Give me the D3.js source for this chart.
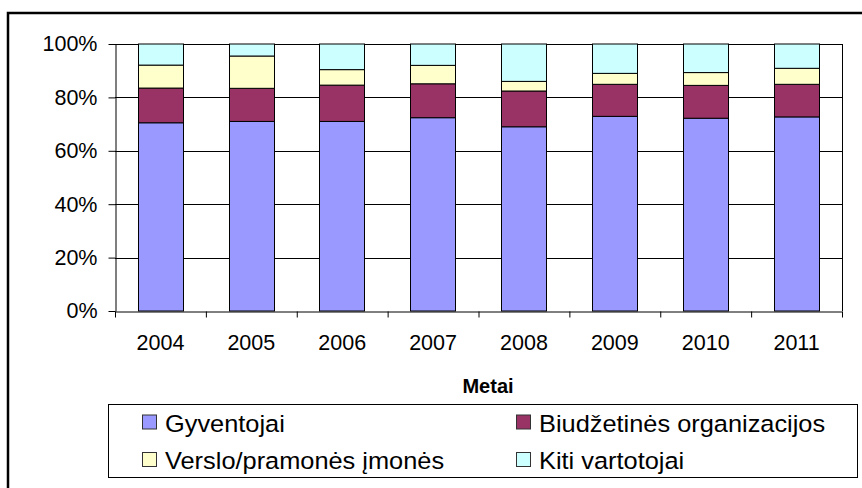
<!DOCTYPE html>
<html>
<head>
<meta charset="utf-8">
<script src="https://cdn.jsdelivr.net/npm/d3@7"></script>
<style>
    body { margin: 0; background: white; }
    text { font-family: Arial, "Liberation Sans", sans-serif; fill: black; }
</style>
</head>
<body>
<svg id="chart" width="862" height="488"></svg>
<script>
// values, percent of each year
const years = ['2004', '2005', '2006', '2007', '2008', '2009', '2010', '2011'];
const gyventojai = [70.5, 71.0, 71.0, 72.4, 69.0, 72.9, 72.2, 72.7];
const biudzetines = [13.0, 12.4, 13.6, 12.7, 13.4, 12.0, 12.3, 12.2];
const verslo = [8.6, 12.1, 5.8, 6.9, 3.6, 4.1, 4.8, 6.0];
const kiti = [7.9, 4.5, 9.6, 8.0, 14.0, 11.0, 10.7, 9.1];
const seriesNames = ['Gyventojai', 'Biudžetinės organizacijos', 'Verslo/pramonės įmonės', 'Kiti vartotojai'];
const yTicks = [0, 20, 40, 60, 80, 100];
const axisTitle = 'Metai';

const COLORS = {
    series: ['#9999FF', '#993366', '#FFFFCC', '#CCFFFF'],
    stroke: 'black',
    grid: 'black'
}

const FONT_SIZE = '21.5px';
const LEGEND_STRETCH = 1.08;

const plot = { left: 115, right: 842, top: 44, bottom: 311 };

var svg = d3.select('#chart');

// outer frame (runs off the right and bottom edge)
svg.append('rect')
    .attr('x', 8).attr('y', 13)
    .attr('width', 900).attr('height', 600)
    .attr('fill', 'none')
    .attr('stroke', 'black')
    .attr('stroke-width', 2.5);

var rows = years.map((year, i) => ({
    year: year,
    s0: gyventojai[i],
    s1: biudzetines[i],
    s2: verslo[i],
    s3: kiti[i]
}));

var stacked = d3.stack().keys(['s0', 's1', 's2', 's3'])(rows);

var x = d3.scaleBand()
    .domain(years)
    .range([plot.left, plot.right])
    .paddingInner(0.5)
    .paddingOuter(0.25);

// category boundaries, used for the tick marks
var xEdge = d3.scaleLinear()
    .domain([0, years.length])
    .range([plot.left, plot.right]);

var y = d3.scaleLinear()
    .domain([0, 100])
    .range([plot.bottom, plot.top]);

// gridlines
svg.append('g')
    .selectAll('line')
    .data(yTicks.filter(t => t > 0))
    .enter()
    .append('line')
    .attr('x1', plot.left).attr('x2', plot.right)
    .attr('y1', d => Math.round(y(d)) + 0.5)
    .attr('y2', d => Math.round(y(d)) + 0.5)
    .attr('stroke', COLORS.grid)
    .attr('stroke-width', 1);

// right border of plot area
svg.append('line')
    .attr('x1', plot.right + 0.5).attr('x2', plot.right + 0.5)
    .attr('y1', y(100)).attr('y2', y(0))
    .attr('stroke', COLORS.grid);

// bars
svg.append('g')
    .selectAll('g')
    .data(stacked)
    .enter()
    .append('g')
    .attr('fill', (d, i) => COLORS.series[i])
    .selectAll('rect')
    .data(d => d)
    .enter()
    .append('rect')
    .attr('x', d => Math.round(x(d.data.year)) + 0.5)
    .attr('width', Math.round(x.bandwidth()))
    .attr('y', d => y(d[1]))
    .attr('height', d => y(d[0]) - y(d[1]))
    .attr('stroke', COLORS.stroke)
    .attr('stroke-width', 1);

// y axis
var yAxis = svg.append('g')
    .attr('transform', 'translate(' + (plot.left + 0.5) + ',0)')
    .call(d3.axisLeft(y)
        .tickValues(yTicks)
        .tickFormat(d => d + '%')
        .tickSize(7)
        .tickPadding(11)
        .tickSizeOuter(0));
yAxis.selectAll('text').style('font-size', FONT_SIZE).attr('font-family', null);
yAxis.selectAll('path, line').attr('stroke', 'black');

// x axis line and boundary ticks
var xTicks = svg.append('g')
    .attr('transform', 'translate(0,' + (plot.bottom + 0.5) + ')')
    .call(d3.axisBottom(xEdge)
        .tickValues(d3.range(years.length + 1))
        .tickFormat('')
        .tickSize(6)
        .tickSizeOuter(0));
xTicks.selectAll('path, line').attr('stroke', 'black');

// x category labels
var xLabels = svg.append('g')
    .attr('transform', 'translate(0,' + plot.bottom + ')')
    .call(d3.axisBottom(x).tickSize(0).tickPadding(24));
xLabels.select('.domain').remove();
xLabels.selectAll('text').style('font-size', FONT_SIZE).attr('font-family', null);

// axis title
svg.append('text')
    .attr('x', 488)
    .attr('y', 393)
    .attr('text-anchor', 'middle')
    .style('font-size', '20px')
    .style('font-weight', 'bold')
    .text(axisTitle);

// legend
svg.append('rect')
    .attr('x', 108.5).attr('y', 404.5)
    .attr('width', 749).attr('height', 73)
    .attr('fill', 'white')
    .attr('stroke', 'black');

var legendPos = [
    { x: 142, y: 431.5 },
    { x: 516, y: 431.5 },
    { x: 142, y: 469 },
    { x: 516, y: 469 }
];

var legendItems = svg.append('g')
    .selectAll('g')
    .data(seriesNames)
    .enter()
    .append('g')
    .attr('transform', (d, i) => 'translate(' + legendPos[i].x + ',' + legendPos[i].y + ')');

legendItems.append('rect')
    .attr('x', 0.5).attr('y', -16.5)
    .attr('width', 14).attr('height', 14)
    .attr('fill', (d, i) => COLORS.series[i])
    .attr('stroke', '#333');

legendItems.append('text')
    .attr('transform', 'translate(23,0) scale(' + LEGEND_STRETCH + ',1)')
    .style('font-size', '23.5px')
    .text(d => d);
</script>
</body>
</html>
